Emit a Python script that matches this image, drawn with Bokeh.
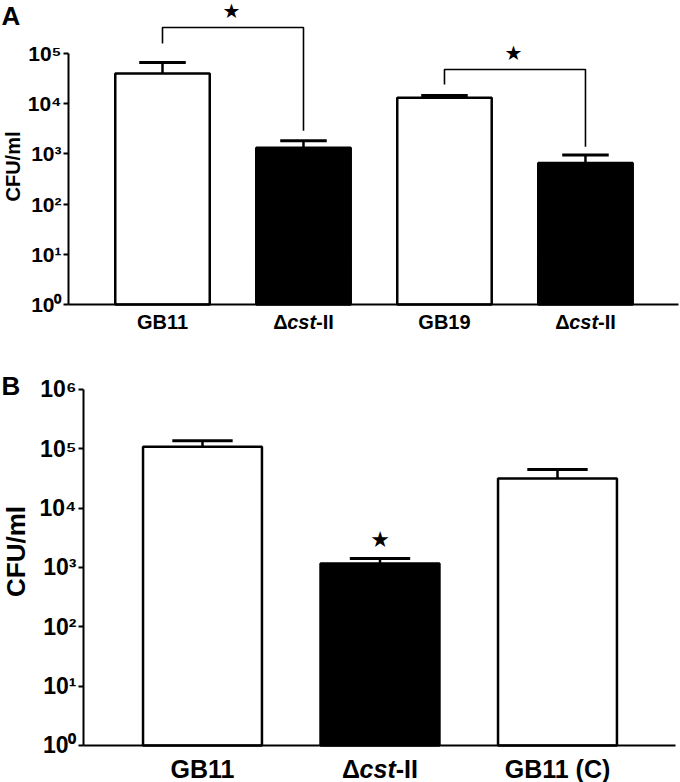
import re
import math
from bokeh.plotting import figure
from bokeh.models import Range1d, FixedTicker, Label
from bokeh.layouts import column
from bokeh.embed import file_html
from bokeh.resources import INLINE
from bokeh.core.properties import value

# ---------------- data ----------------
a_labels = ["GB11", "Δcst-II", "GB19", "Δcst-II"]
a_means = [40000, 1320, 13200, 660]
a_err_top = [66000, 1820, 14500, 955]
a_fill = ["white", "black", "white", "black"]

b_labels = ["GB11", "Δcst-II", "GB11 (C)"]
b_means = [108000, 1170, 31600]
b_err_top = [137000, 1420, 45000]
b_fill = ["white", "black", "white"]

y_ticks = [1, 10, 100, 1000, 10000, 100000, 1000000]
y_tick_labels = ["10⁰", "10¹", "10²", "10³", "10⁴", "10⁵", "10⁶"]
y_title = "CFU/ml"

# significance brackets for panel A: (left bar, right bar)
a_pairs = [(1, 2), (3, 4)]
# single star in panel B above bar 2
b_star_bar = 2

FONT = "Liberation Sans"
EM = {"Δ": 0.70, "c": 0.556, "s": 0.556, "t": 0.333, "-": 0.333, "I": 0.278}
W = 680


def make_fig(h, xr, yr, axis_x, xmax, ymax_tick, tick_px):
    p = figure(width=W, height=h, x_range=Range1d(*xr), y_range=Range1d(*yr),
               y_axis_type="log", output_backend="svg", toolbar_location=None,
               min_border_left=0, min_border_right=0, min_border_top=0, min_border_bottom=0)
    p.grid.visible = False
    p.outline_line_color = None
    p.background_fill_color = "white"
    p.border_fill_color = "white"
    ticks = [t for t in y_ticks if t <= ymax_tick]
    p.yaxis.fixed_location = axis_x
    p.yaxis.ticker = FixedTicker(ticks=ticks)
    p.yaxis.major_label_overrides = {t: l for t, l in zip(y_ticks, y_tick_labels) if t <= ymax_tick}
    p.yaxis.bounds = (1, ymax_tick)
    p.yaxis.minor_tick_line_color = None
    p.yaxis.major_tick_in = 0
    p.yaxis.major_tick_out = 5
    p.yaxis.major_tick_line_width = 2
    p.yaxis.axis_line_width = 2
    p.yaxis.major_label_standoff = 2
    p.yaxis.major_label_text_font = FONT
    p.yaxis.major_label_text_font_style = "bold"
    p.yaxis.major_label_text_font_size = f"{tick_px}px"
    p.yaxis.major_label_text_color = "black"
    p.xaxis.fixed_location = 1
    p.xaxis.bounds = (axis_x, xmax)
    p.xaxis.ticker = FixedTicker(ticks=[])
    p.xaxis.major_tick_line_color = None
    p.xaxis.minor_tick_line_color = None
    p.xaxis.axis_line_width = 2
    p.xaxis.major_label_text_font_size = "0px"
    return p


def add_bars(p, means, err_top, fill, width, cap):
    xs = list(range(1, len(means) + 1))
    p.vbar(x=xs, top=means, bottom=1, width=width, fill_color=fill,
           line_color="black", line_width=2.5)
    p.segment(x0=xs, y0=means, x1=xs, y1=err_top, line_color="black", line_width=2.5)
    p.segment(x0=[x - cap / 2 for x in xs], y0=err_top,
              x1=[x + cap / 2 for x in xs], y1=err_top,
              line_color="black", line_width=3)


def add_cat_labels(p, labels, size_px, y_screen):
    for i, lab in enumerate(labels):
        x = i + 1
        m = re.match(r"^(Δ)([a-z]+)(.*)$", lab)
        if not m:
            p.add_layout(Label(x=x, y=y_screen, y_units="screen", text=lab,
                               text_font=FONT, text_font_style="bold",
                               text_font_size=f"{size_px}px", text_color="black",
                               text_align="center", text_baseline="middle"))
            continue
        pieces = [(m.group(1), "bold"), (m.group(2), "bold italic"), (m.group(3), "bold")]
        widths = [sum(EM.get(ch, 0.556) for ch in t) * size_px for t, _ in pieces]
        off = -sum(widths) / 2
        for (t, st), w in zip(pieces, widths):
            p.add_layout(Label(x=x, y=y_screen, y_units="screen", x_offset=off, text=t,
                               text_font=FONT, text_font_style=st,
                               text_font_size=f"{size_px}px", text_color="black",
                               text_align="left", text_baseline="middle"))
            off += w


def add_text(p, text, x, y, size_px, baseline="middle", align="left", angle=0.0):
    p.add_layout(Label(x=x, y=y, x_units="screen", y_units="screen", text=text,
                       text_font=FONT, text_font_style="bold", text_font_size=f"{size_px}px",
                       text_color="black", text_baseline=baseline, text_align=align,
                       angle=angle))


def star(p, xs, ys, size):
    p.text(x=xs, y=ys, text=["★"] * len(xs), text_font=value("DejaVu Sans"),
           text_font_size=f"{size}px", text_align="center", text_baseline="middle",
           text_color="black")


# ---------------- panel A ----------------
HA = 370
pA = make_fig(HA, (-0.149, 4.674), (10 ** -1.315, 10 ** 6.056), 0.3333, 4.660, 100000, 21)
add_bars(pA, a_means, a_err_top, a_fill, 0.67, 0.33)

# brackets (offsets in decades above the bars' error tops)
br_top = [10 ** 0.70, 10 ** 0.52]
br_left = [10 ** 0.38, 10 ** 0.22]
br_right = [10 ** 0.20, 10 ** 0.16]
for k, (i, j) in enumerate(a_pairs):
    yl = a_err_top[i - 1] * br_left[k]
    yr = a_err_top[j - 1] * br_right[k]
    yt = max(a_err_top[i - 1], a_err_top[j - 1]) * br_top[k]
    pA.line(x=[i, i, j, j], y=[yl, yt, yt, yr], line_color="black", line_width=1.6)
    star(pA, [(i + j) / 2 - 0.01], [yt * 10 ** 0.32], 20)

add_cat_labels(pA, a_labels, 20, 49)
add_text(pA, "A", 1, HA, 26, baseline="top")
add_text(pA, y_title, 12, HA - 166, 20, align="center", angle=math.pi / 2)

# ---------------- panel B ----------------
HB = 412
pB = make_fig(HB, (-0.138, 3.693), (10 ** -0.624, 10 ** 6.320), 0.3296, 3.665, 1000000, 23)
add_bars(pB, b_means, b_err_top, b_fill, 0.67, 0.34)
star(pB, [b_star_bar], [b_err_top[b_star_bar - 1] * 10 ** 0.32], 22)
add_cat_labels(pB, b_labels, 25, 14)
add_text(pB, "B", 1, HB, 26, baseline="top")
add_text(pB, y_title, 15, HB - 181, 26, align="center", angle=math.pi / 2)

layout = column(pA, pB)
open("out.html", "w").write(file_html(layout, INLINE))
